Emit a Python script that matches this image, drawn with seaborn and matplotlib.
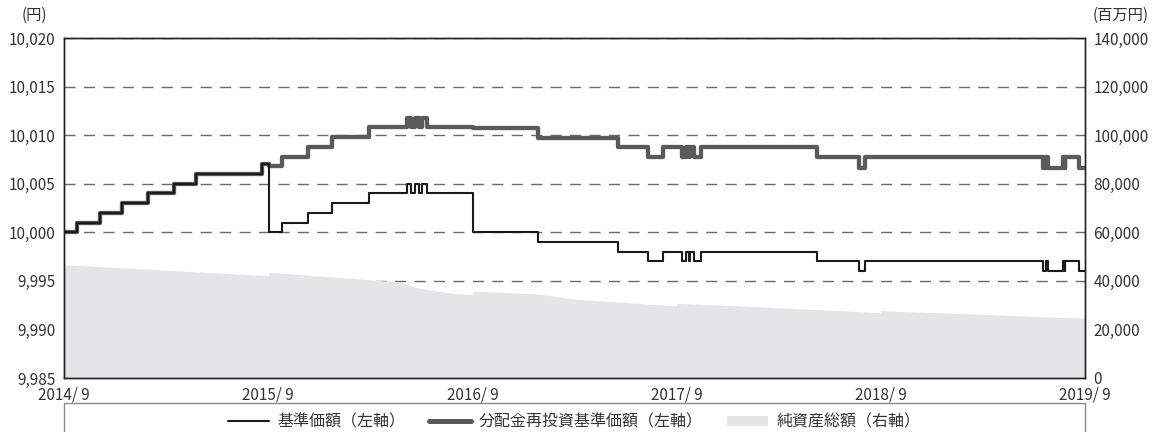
import pandas as pd
import matplotlib.pyplot as plt
import matplotlib.ticker as mticker
from matplotlib.patches import Rectangle, Patch
from matplotlib.lines import Line2D
import seaborn as sns


# --- step change points for the two NAV series (left axis, yen) ---
step_dates = [
    "2014-09-01", "2014-09-24", "2014-11-04", "2014-12-14", "2015-01-29",
    "2015-03-17", "2015-04-25", "2015-08-21", "2015-09-03", "2015-09-26",
    "2015-11-11", "2015-12-24", "2016-02-28", "2016-05-06", "2016-05-14",
    "2016-05-21", "2016-05-28", "2016-06-03", "2016-06-12", "2016-09-02",
    "2016-12-26", "2017-05-19", "2017-07-12", "2017-08-08", "2017-09-11",
    "2017-09-18", "2017-09-22", "2017-09-25", "2017-10-01", "2017-10-15",
    "2018-05-10", "2018-07-24", "2018-08-04", "2019-06-18", "2019-06-23",
    "2019-06-27", "2019-07-23", "2019-07-27", "2019-07-28", "2019-08-21",
    "2019-09-01",
]
nav = [
    10000, 10001, 10002, 10003, 10004, 10005, 10006, 10007, 10000, 10001,
    10002, 10003, 10004, 10005, 10004, 10005, 10004, 10005, 10004, 10000,
    9999, 9998, 9997, 9998, 9997, 9998, 9997, 9998, 9997, 9998,
    9997, 9996, 9997, 9996, 9997, 9996, 9997, 9996, 9997, 9996,
    9996,
]
nav_reinvested = [
    10000, 10001, 10002, 10003, 10004, 10005, 10006, 10007, 10006.85, 10007.8,
    10008.8, 10009.8, 10010.8, 10011.8, 10010.8, 10011.8, 10010.8, 10011.8, 10010.8, 10010.7,
    10009.75, 10008.75, 10007.7, 10008.75, 10007.7, 10008.75, 10007.7, 10008.75, 10007.7, 10008.75,
    10007.7, 10006.6, 10007.7, 10006.6, 10007.7, 10006.6, 10007.7, 10006.6, 10007.7, 10006.6,
    10006.6,
]

# --- net assets (right axis, million yen) ---
asset_dates = [
    "2014-09-01", "2015-09-02", "2015-09-03", "2016-04-18", "2016-05-29",
    "2016-07-28", "2016-09-01", "2016-09-02", "2016-12-26", "2017-03-07",
    "2017-08-31", "2017-09-02", "2018-02-15", "2018-08-31", "2018-09-01",
    "2019-09-01",
]
net_assets = [
    46650, 42100, 43500, 39650, 36900,
    34870, 34300, 35800, 34600, 32400,
    29650, 30760, 29100, 26900, 27720,
    24600,
]

year_ticks = ["2014-09-01", "2015-09-01", "2016-09-01", "2017-09-01", "2018-09-01", "2019-09-01"]
year_labels = ["2014/ 9", "2015/ 9", "2016/ 9", "2017/ 9", "2018/ 9", "2019/ 9"]

df = pd.DataFrame({"date": pd.to_datetime(step_dates), "nav": nav, "reinv": nav_reinvested})
assets = pd.DataFrame({"date": pd.to_datetime(asset_dates), "value": net_assets})

sns.set_style("white")
plt.rcParams["font.family"] = ["Noto Sans CJK JP", "DejaVu Sans"]

fig = plt.figure(figsize=(11.55, 4.32), dpi=100)
ax2 = fig.add_axes([64 / 1155, 1 - 378 / 432, 1021 / 1155, 340 / 432])
ax1 = ax2.twinx()
ax1.yaxis.tick_left()
ax2.yaxis.tick_right()
ax1.set_zorder(ax2.get_zorder() + 1)
ax1.patch.set_visible(False)

# area + grid on the right-hand (asset) axis
ax2.fill_between(assets["date"], assets["value"], 0, color="#e4e5e6", linewidth=0)
ax2.set_ylim(0, 140000)
ax2.yaxis.set_major_locator(mticker.MultipleLocator(20000))
ax2.yaxis.set_major_formatter(mticker.FuncFormatter(lambda v, p: f"{int(v):,}"))
ax2.set_axisbelow(True)
ax2.yaxis.grid(True, linestyle=(0, (8, 6)), color="#6a6a6a", linewidth=1.0)
ax2.xaxis.grid(False)

# NAV lines on the left axis
sns.lineplot(data=df, x="date", y="reinv", ax=ax1, color="#5a5a5a", linewidth=3.1,
             drawstyle="steps-post")
sns.lineplot(data=df, x="date", y="nav", ax=ax1, color="#1a1a1a", linewidth=1.5,
             drawstyle="steps-post")
ax1.set_ylim(9985, 10020)
ax1.yaxis.set_major_locator(mticker.MultipleLocator(5))
ax1.yaxis.set_major_formatter(mticker.FuncFormatter(lambda v, p: f"{int(v):,}"))
ax1.set_xlabel("")
ax1.set_ylabel("")
ax2.set_ylabel("")

xmin, xmax = pd.Timestamp("2014-09-01"), pd.Timestamp("2019-09-01")
for ax in (ax1, ax2):
    ax.set_xlim(xmin, xmax)
    for s in ax.spines.values():
        s.set_color("#222222")
        s.set_linewidth(1.0)

ax2.set_xticks(pd.to_datetime(year_ticks))
ax2.set_xticklabels(year_labels)
ax1.set_xticks(pd.to_datetime(year_ticks))
ax1.tick_params(axis="x", bottom=False, labelbottom=False)
ax2.tick_params(axis="x", direction="in", length=6, color="#222222", labelsize=11,
                labelcolor="#333333", pad=6)
ax1.tick_params(axis="y", length=0, labelsize=11, labelcolor="#333333", pad=6)
ax2.tick_params(axis="y", length=0, labelsize=11, labelcolor="#333333", pad=6)

fig.text(34 / 1155, 1 - 15 / 432, "(円)", ha="center", va="center", fontsize=11, color="#333333")
fig.text(1121 / 1155, 1 - 15 / 432, "(百万円)", ha="center", va="center", fontsize=11, color="#333333")

# legend with a frame spanning the plot width
fig.patches.append(Rectangle((64 / 1155, -0.05), 1021 / 1155, 0.05 + 29 / 432,
                             transform=fig.transFigure, fill=False,
                             edgecolor="#8a8a8a", linewidth=1.0))
handles = [
    Line2D([], [], color="#1a1a1a", linewidth=1.5),
    Line2D([], [], color="#5a5a5a", linewidth=3.6),
    Patch(facecolor="#e4e5e6", edgecolor="none"),
]
labels = ["基準価額（左軸）", "分配金再投資基準価額（左軸）", "純資産総額（右軸）"]
fig.legend(handles, labels, loc="center", bbox_to_anchor=(574 / 1155, 1 - 422 / 432),
           ncol=3, frameon=False, fontsize=11.5, handlelength=2.6, handleheight=0.55,
           columnspacing=1.5, handletextpad=0.5, labelcolor="#333333")

fig.savefig("out.png", dpi=100)
